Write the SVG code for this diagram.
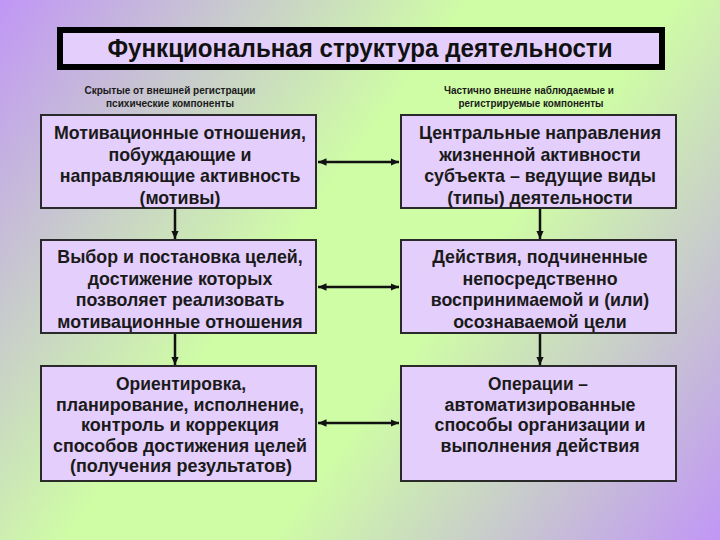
<svg xmlns="http://www.w3.org/2000/svg" width="720" height="540" viewBox="0 0 720 540">
<defs>
<linearGradient id="bg" x1="0" y1="0" x2="720" y2="540" gradientUnits="userSpaceOnUse">
<stop offset="0" stop-color="#c196f6"/>
<stop offset="0.42" stop-color="#cffda5"/>
<stop offset="0.6" stop-color="#cffda5"/>
<stop offset="1" stop-color="#c196f6"/>
</linearGradient>
<marker id="ah" viewBox="0 0 10 10" refX="10" refY="5" markerWidth="3.4" markerHeight="3.4" orient="auto-start-reverse" markerUnits="strokeWidth">
<path d="M0,0.5 L10,5 L0,9.5 z" fill="#111"/>
</marker>
<style>
.box{fill:#e4cefb;stroke:#2a2a2a;stroke-width:2}
.t{font-family:"Liberation Sans",Arial,sans-serif;font-weight:bold;font-size:17.8px;fill:#1a1a1a;text-anchor:middle}
.n{font-family:"Liberation Sans",Arial,sans-serif;font-weight:bold;font-size:18px;fill:#1a1a1a;text-anchor:middle}
.s{font-family:"Liberation Sans",Arial,sans-serif;font-weight:bold;font-size:11.5px;fill:#1a1a1a;text-anchor:middle}
.c{stroke:#111;stroke-width:2.5;fill:none;marker-end:url(#ah)}
.d{stroke:#111;stroke-width:2.5;fill:none;marker-start:url(#ah);marker-end:url(#ah)}
</style>
</defs>
<rect width="720" height="540" fill="url(#bg)"/>
<g id="title">
<rect x="60" y="30" width="602" height="37" fill="#e4cefb" stroke="#000" stroke-width="6"/>
<text x="360" y="57" textLength="505" lengthAdjust="spacingAndGlyphs" style="font-family:'Liberation Sans',Arial,sans-serif;font-weight:bold;font-size:25.5px;fill:#111;text-anchor:middle">Функциональная структура деятельности</text>
</g>
<g id="sub-left">
<text class="s" x="170" y="94" textLength="171" lengthAdjust="spacingAndGlyphs">Скрытые от внешней регистрации</text>
<text class="s" x="170" y="107" textLength="128" lengthAdjust="spacingAndGlyphs">психические компоненты</text>
</g>
<g id="sub-right">
<text class="s" x="529" y="94" textLength="170" lengthAdjust="spacingAndGlyphs">Частично внешне наблюдаемые и</text>
<text class="s" x="531" y="107" textLength="145" lengthAdjust="spacingAndGlyphs">регистрируемые компоненты</text>
</g>
<g id="n1">
<rect class="box" x="41" y="115" width="275" height="93"/>
<text class="t" x="180" y="139">Мотивационные отношения,</text>
<text class="t" x="180" y="161">побуждающие и</text>
<text class="t" x="180" y="182">направляющие активность</text>
<text class="t" x="180" y="204">(мотивы)</text>
</g>
<g id="n2">
<rect class="box" x="401" y="115" width="275" height="93"/>
<text class="t" x="540" y="139">Центральные направления</text>
<text class="t" x="540" y="161">жизненной активности</text>
<text class="t" x="540" y="182">субъекта – ведущие виды</text>
<text class="t" x="540" y="204">(типы) деятельности</text>
</g>
<g id="n3">
<rect class="box" x="41" y="240" width="275" height="93"/>
<text class="t" x="180" y="263">Выбор и постановка целей,</text>
<text class="t" x="180" y="285">достижение которых</text>
<text class="t" x="180" y="306">позволяет реализовать</text>
<text class="t" x="180" y="328">мотивационные отношения</text>
</g>
<g id="n4">
<rect class="box" x="401" y="240" width="275" height="93"/>
<text class="t" x="540" y="263">Действия, подчиненные</text>
<text class="t" x="540" y="285">непосредственно</text>
<text class="t" x="540" y="306">воспринимаемой и (или)</text>
<text class="t" x="540" y="328">осознаваемой цели</text>
</g>
<g id="n5">
<rect class="box" x="41" y="366" width="275" height="115"/>
<text class="n" x="181" y="390" textLength="130" lengthAdjust="spacingAndGlyphs">Ориентировка,</text>
<text class="n" x="180" y="410.5" textLength="248" lengthAdjust="spacingAndGlyphs">планирование, исполнение,</text>
<text class="n" x="180" y="431" textLength="198" lengthAdjust="spacingAndGlyphs">контроль и коррекция</text>
<text class="n" x="180" y="451.5" textLength="254" lengthAdjust="spacingAndGlyphs">способов достижения целей</text>
<text class="n" x="181" y="472" textLength="222" lengthAdjust="spacingAndGlyphs">(получения результатов)</text>
</g>
<g id="n6">
<rect class="box" x="401" y="366" width="275" height="115"/>
<text class="n" x="538" y="390" textLength="100" lengthAdjust="spacingAndGlyphs">Операции –</text>
<text class="n" x="540" y="410.5" textLength="191" lengthAdjust="spacingAndGlyphs">автоматизированные</text>
<text class="n" x="540" y="431" textLength="211" lengthAdjust="spacingAndGlyphs">способы организации и</text>
<text class="n" x="540" y="451.5" textLength="199" lengthAdjust="spacingAndGlyphs">выполнения действия</text>
</g>
<g id="connectors">
<line class="c" x1="175" y1="209" x2="175" y2="239"/>
<line class="c" x1="540" y1="209" x2="540" y2="239"/>
<line class="c" x1="175" y1="334" x2="175" y2="365"/>
<line class="c" x1="540" y1="334" x2="540" y2="365"/>
<line class="d" x1="318" y1="162" x2="399" y2="162"/>
<line class="d" x1="318" y1="287" x2="399" y2="287"/>
<line class="d" x1="318" y1="423" x2="399" y2="423"/>
</g>
</svg>
